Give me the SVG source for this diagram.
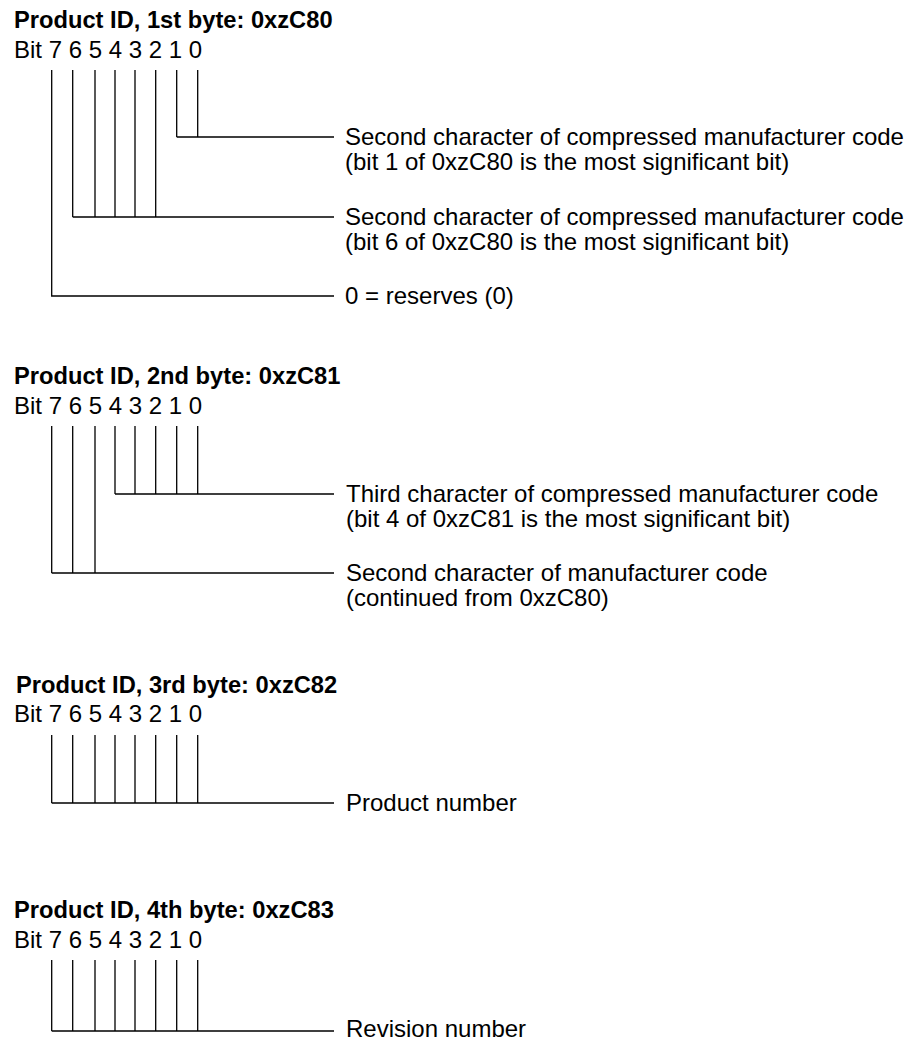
<svg xmlns="http://www.w3.org/2000/svg" width="913" height="1040" viewBox="0 0 913 1040">
<style>
.t{font-family:"Liberation Sans",Arial,sans-serif;font-size:23.7px;font-weight:bold;fill:#000}
.b{font-family:"Liberation Sans",Arial,sans-serif;font-size:24px;fill:#000}
.l{font-family:"Liberation Sans",Arial,sans-serif;font-size:24px;fill:#000}
.c{stroke:#000;stroke-width:1.3;fill:none}
</style>
<rect width="913" height="1040" fill="#fff"/>
<g id="byte1">
<text class="t" x="14" y="28">Product ID, 1st byte: 0xzC80</text>
<text class="b" x="14" y="58">Bit 7 6 5 4 3 2 1 0</text>
</g>
<g id="byte1-label1">
<text class="l" x="345" y="145">Second character of compressed manufacturer code</text>
<text class="l" x="345" y="169.5">(bit 1 of 0xzC80 is the most significant bit)</text>
</g>
<g id="byte1-label2">
<text class="l" x="345" y="225">Second character of compressed manufacturer code</text>
<text class="l" x="345" y="249.5">(bit 6 of 0xzC80 is the most significant bit)</text>
</g>
<g id="byte1-label3">
<text class="l" x="345" y="304">0 = reserves (0)</text>
</g>
<g id="byte2">
<text class="t" x="14" y="384">Product ID, 2nd byte: 0xzC81</text>
<text class="b" x="14" y="414">Bit 7 6 5 4 3 2 1 0</text>
</g>
<g id="byte2-label1">
<text class="l" x="346" y="502">Third character of compressed manufacturer code</text>
<text class="l" x="346" y="526.5">(bit 4 of 0xzC81 is the most significant bit)</text>
</g>
<g id="byte2-label2">
<text class="l" x="346" y="581">Second character of manufacturer code</text>
<text class="l" x="346" y="605.5">(continued from 0xzC80)</text>
</g>
<g id="byte3">
<text class="t" x="16" y="693">Product ID, 3rd byte: 0xzC82</text>
<text class="b" x="14" y="722">Bit 7 6 5 4 3 2 1 0</text>
</g>
<g id="byte3-label">
<text class="l" x="346" y="811">Product number</text>
</g>
<g id="byte4">
<text class="t" x="14" y="918">Product ID, 4th byte: 0xzC83</text>
<text class="b" x="14" y="948">Bit 7 6 5 4 3 2 1 0</text>
</g>
<g id="byte4-label">
<text class="l" x="346" y="1037">Revision number</text>
</g>
<g id="connectors" class="c">
<path d="M176.7 70V137M197.7 70V137M176.7 137H334"/>
<path d="M72.7 70V217M95 70V217M115 70V217M135 70V217M155.7 70V217M72.7 217H334"/>
<path d="M51.7 70V296H334"/>
<path d="M115 426V494M135 426V494M155.7 426V494M176.7 426V494M197.7 426V494M115 494H334"/>
<path d="M51.7 426V573M72.7 426V573M95 426V573M51.7 573H334"/>
<path d="M51.7 735V803M72.7 735V803M95 735V803M115 735V803M135 735V803M155.7 735V803M176.7 735V803M197.7 735V803M51.7 803H334"/>
<path d="M51.7 960V1031M72.7 960V1031M95 960V1031M115 960V1031M135 960V1031M155.7 960V1031M176.7 960V1031M197.7 960V1031M51.7 1031H334"/>
</g>
</svg>
